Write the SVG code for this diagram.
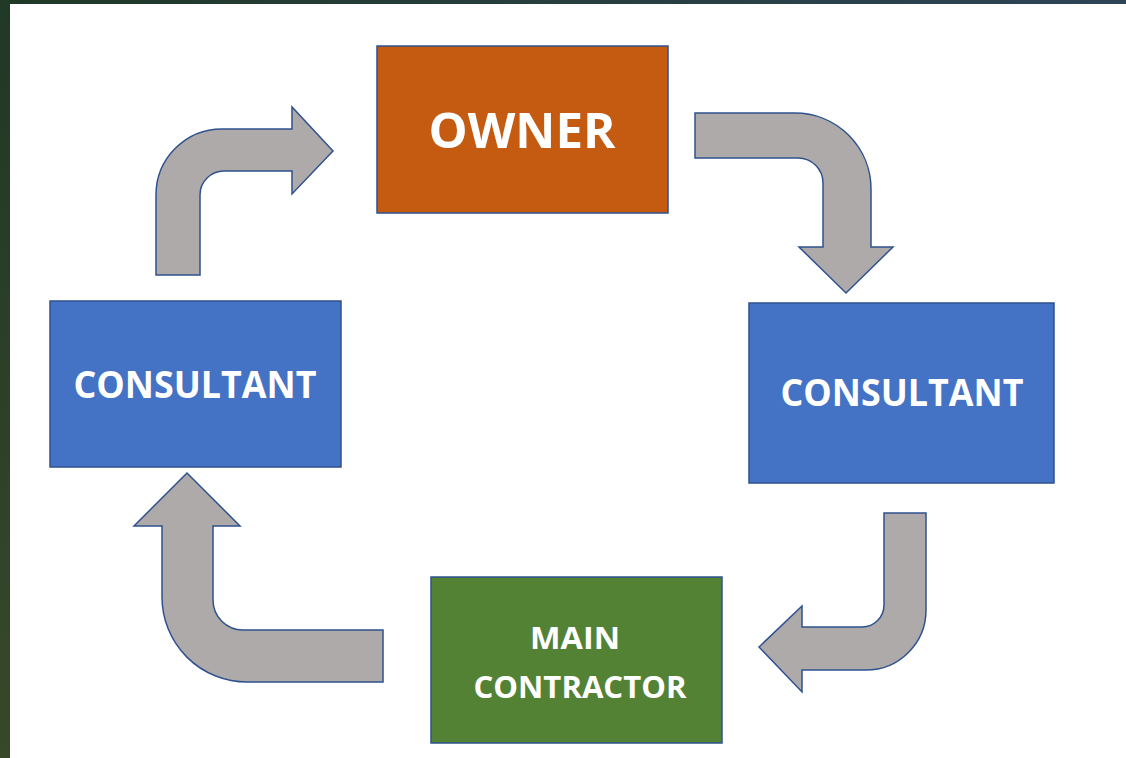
<svg xmlns="http://www.w3.org/2000/svg" width="1126" height="758" viewBox="0 0 1126 758">
  <defs>
    <linearGradient id="gLeft" x1="0" y1="0" x2="0" y2="1">
      <stop offset="0" stop-color="#203826"/>
      <stop offset="1" stop-color="#38482a"/>
    </linearGradient>
    <linearGradient id="gTop" x1="0" y1="0" x2="1" y2="0">
      <stop offset="0" stop-color="#203826"/>
      <stop offset="1" stop-color="#2c4456"/>
    </linearGradient>
    <style>
      .box { stroke: #2f528f; stroke-width: 1.5; }
      .owner { fill: #c55a11; }
      .blue { fill: #4472c4; }
      .green { fill: #548235; }
      .lbl { fill: #ffffff; font-family: "Open Sans", "Liberation Sans", sans-serif; font-weight: bold; text-anchor: middle; }
      .arrow { fill: #aeaaaa; stroke: #2f528f; stroke-width: 1.5; stroke-linejoin: miter; }
    </style>
  </defs>
  <rect x="0" y="0" width="1126" height="758" fill="#ffffff"/>
  <rect x="0" y="0" width="1126" height="4" fill="url(#gTop)"/>
  <rect x="0" y="0" width="10" height="758" fill="url(#gLeft)"/>

  <g id="connectors">
    <path class="arrow" d="M156,275 L156,195 A66,66 0 0 1 222,129 L292,129 L292,107 L333,151 L292,194 L292,171 L224,171 A24,24 0 0 0 200,195 L200,275 Z"/>
    <path class="arrow" d="M695,113 L795,113 A76,76 0 0 1 871,189 L871,247 L893,247 L846,293 L799,247 L823,247 L823,183 A25,25 0 0 0 798,158 L695,158 Z"/>
    <path class="arrow" d="M884,513 L926,513 L926,610 A60,60 0 0 1 866,670 L802,670 L802,692 L759,647 L802,606 L802,627 L862,627 A22,22 0 0 0 884,605 Z"/>
    <path class="arrow" d="M383,630 L383,682 L247,682 A85,85 0 0 1 162,597 L162,526 L134,526 L187,473 L240,526 L213,526 L213,600 A30,30 0 0 0 243,630 Z"/>
  </g>

  <g id="owner">
    <rect class="box owner" x="377" y="46" width="291" height="167"/>
    <text class="lbl" x="522" y="148" font-size="48" textLength="187" lengthAdjust="spacingAndGlyphs">OWNER</text>
  </g>
  <g id="consultant-left">
    <rect class="box blue" x="50" y="301" width="291" height="166"/>
    <text class="lbl" x="195" y="398" font-size="38" textLength="243" lengthAdjust="spacingAndGlyphs">CONSULTANT</text>
  </g>
  <g id="consultant-right">
    <rect class="box blue" x="749" y="303" width="305" height="180"/>
    <text class="lbl" x="902" y="406" font-size="38" textLength="243" lengthAdjust="spacingAndGlyphs">CONSULTANT</text>
  </g>
  <g id="main-contractor">
    <rect class="box green" x="431" y="577" width="291" height="166"/>
    <text class="lbl" x="575" y="649" font-size="31" textLength="90" lengthAdjust="spacingAndGlyphs">MAIN</text>
    <text class="lbl" x="580" y="698" font-size="31" textLength="213" lengthAdjust="spacingAndGlyphs">CONTRACTOR</text>
  </g>
</svg>
